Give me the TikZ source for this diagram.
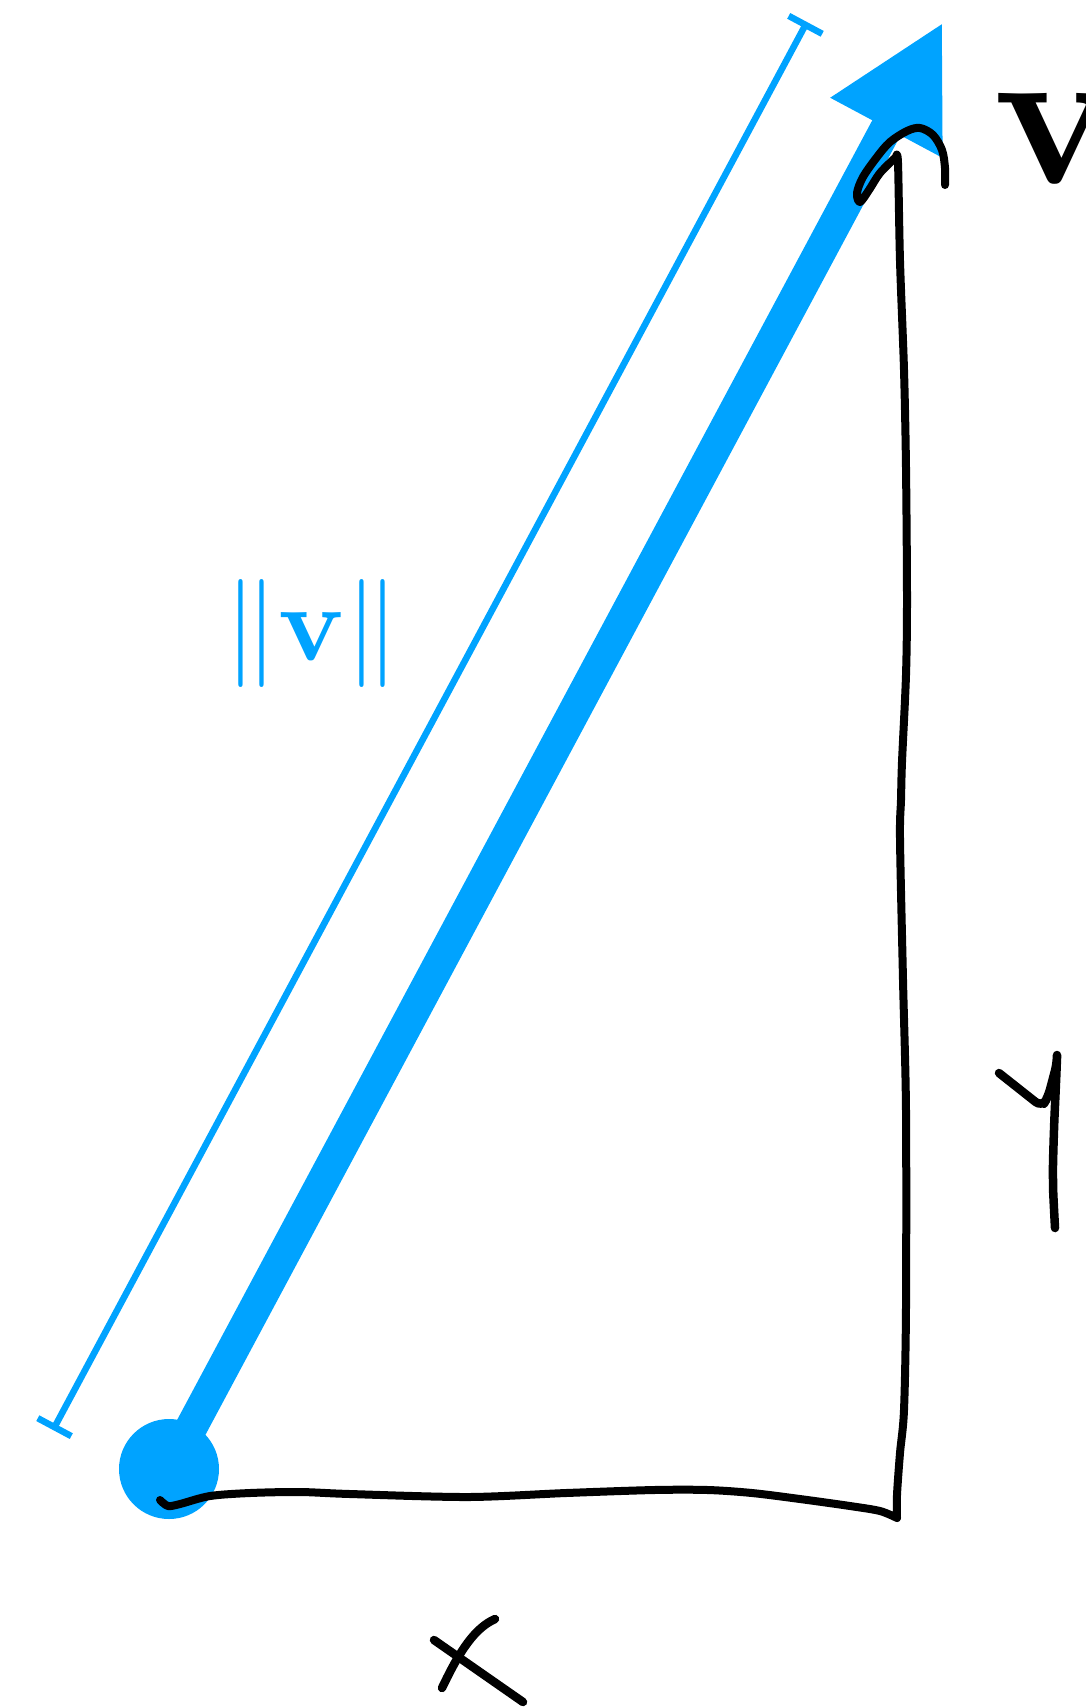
\documentclass[tikz,border=0pt]{standalone}
\usepackage{graphicx}
\usepackage{xcolor}
\usepackage{tikz}
\usetikzlibrary{arrows.meta, positioning}
\definecolor{vecblue}{RGB}{0,163,255}

\begin{document}
\begin{tikzpicture}[x=0.5pt, y=-0.5pt,
    vecline/.style={vecblue, line width=16pt, -{Triangle[length=60pt, width=59pt]}},
    tipdot/.style={circle, fill=vecblue, minimum size=50pt, inner sep=0pt},
    normline/.style={vecblue, line width=3.25pt, {Bar[width=19pt]}-{Bar[width=19pt]}},
    hand/.style={black, line width=4pt, line cap=round, line join=round},
    handletter/.style={hand, line width=4.25pt}]
    % Frame
    \useasboundingbox (0,0) rectangle (1086,1708);
    \clip (0,0) rectangle (1086,1708);

    % Vector v
    \node[tipdot] (origin) at (169,1469) {};
    \coordinate (tip) at (943,22);
    \draw[vecline] (origin.center) -- (tip);
    \node[anchor=base west, inner sep=0pt] (vname) at (993,183) {\scalebox{10.15}{$\mathbf{v}$}};

    % Length marker
    \coordinate (norm0) at (53,1430);
    \coordinate (norm1) at (807,22);
    \draw[normline] (norm0) -- (norm1);
    \node[text=vecblue] (normlabel) at (312,633) {\scalebox{5.4}{$\|\mathbf{v}\|$}};

    % Hand-drawn components
    \draw[hand] plot[smooth, tension=0.5] coordinates {
        (160,1500) (168,1506) (180,1504) (210,1496) (250,1493) (300,1492) (350,1494)
        (468,1497) (566,1493) (654,1490) (708,1490) (752,1493) (800,1499) (850,1506)
        (880,1511) (897,1518)}
        -- plot[smooth, tension=0.5] coordinates {
        (897,1518) (897,1495) (900,1453) (904,1410) (906,1307) (906,1111) (903,980)
        (900,839) (901,800) (902,762) (906,675) (907,599) (906,468) (904,370)
        (900,261) (898,163) (896,157)}
        -- plot[smooth, tension=0.55] coordinates {
        (896,157) (880,173) (869,190) (860,202) (857,193) (863,177) (877,157)
        (890,142) (907,131) (920,128) (933,135) (942,150) (945,168) (945,185)};

    % Letter y
    \draw[handletter, rounded corners=4pt] (999,1073) -- (1042,1107) -- (1048,1097) -- (1057,1063)
        -- plot[smooth] coordinates {(1057,1063) (1054,1130) (1053,1180) (1055,1228)};

    % Letter x
    \draw[handletter] (434,1640) -- (523,1702);
    \draw[handletter] (495,1619) .. controls (475,1628) and (460,1650) .. (442,1688);
\end{tikzpicture}
\end{document}
